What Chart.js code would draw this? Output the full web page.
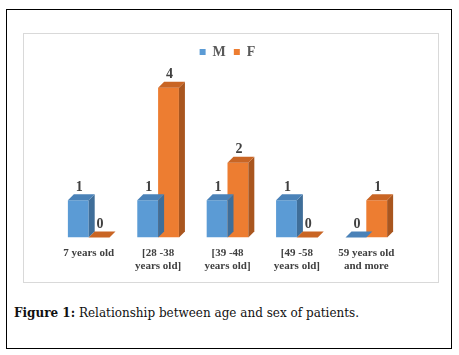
<!DOCTYPE html>
<html>
<head>
<meta charset="utf-8">
<script src="https://cdn.jsdelivr.net/npm/chart.js@4"></script>
<style>
  body { margin: 0; background: #fff; width: 459px; height: 355px; position: relative; overflow: hidden; }
  #frame { position: absolute; left: 6px; top: 9px; width: 444px; height: 338px; border: 1.5px solid #000; }
  #box { position: absolute; left: 23px; top: 33px; width: 414px; height: 248px; border: 1px solid #d9d9d9; }
  #caption { position: absolute; left: 14px; top: 306px; font-family: "DejaVu Serif", serif; font-size: 12px; color: #111; }
  #caption b { font-weight: bold; }
</style>
</head>
<body>
<div id="frame"></div>
<div id="box"><canvas id="myChart1" width="414" height="248"></canvas></div>
<div id="caption"><b>Figure 1:</b> Relationship between age and sex of patients.</div>
<script>
const categories = ["7 years old", ["[28 -38", "years old]"], ["[39 -48", "years old]"], ["[49 -58", "years old]"], ["59 years old", "and more"]];
const male = [1, 1, 1, 1, 0];
const female = [0, 4, 2, 0, 1];

const DEPTH = 6;

// fake 3D: top + side faces, and the value labels
const bar3d = {
  id: "bar3d",
  afterDatasetsDraw(chart) {
    const ctx = chart.ctx;
    chart.data.datasets.forEach(function (ds, i) {
      const meta = chart.getDatasetMeta(i);
      meta.data.forEach(function (bar, j) {
        const p = bar.getProps(["x", "y", "base", "width"], true);
        const l = p.x - p.width / 2, r = p.x + p.width / 2;
        ctx.save();
        ctx.fillStyle = ds.sideColor;
        ctx.beginPath();
        ctx.moveTo(r, p.y);
        ctx.lineTo(r + DEPTH, p.y - DEPTH);
        ctx.lineTo(r + DEPTH, p.base - DEPTH);
        ctx.lineTo(r, p.base);
        ctx.closePath();
        ctx.fill();
        ctx.fillStyle = ds.topColor;
        ctx.beginPath();
        ctx.moveTo(l, p.y);
        ctx.lineTo(l + DEPTH, p.y - DEPTH);
        ctx.lineTo(r + DEPTH, p.y - DEPTH);
        ctx.lineTo(r, p.y);
        ctx.closePath();
        ctx.fill();
        ctx.fillStyle = "#404040";
        ctx.font = "bold 14px 'Liberation Serif'";
        ctx.textAlign = "center";
        ctx.textBaseline = "middle";
        ctx.fillText(ds.data[j], p.x + 1, p.y - 13);
        ctx.restore();
      });
    });
  },
};

new Chart(document.getElementById("myChart1"), {
  type: "bar",
  data: {
    labels: categories,
    datasets: [
      {
        label: "M",
        data: male,
        backgroundColor: "#5B9BD5",
        sideColor: "#3F6E99",
        topColor: "#4A82B8",
      },
      {
        label: "F",
        data: female,
        backgroundColor: "#ED7D31",
        sideColor: "#A9561F",
        topColor: "#C96524",
      },
    ],
  },
  options: {
    responsive: false,
    animation: false,
    categoryPercentage: 0.6,
    barPercentage: 1,
    layout: { padding: { left: 30, right: 37, top: 3, bottom: 8 } },
    scales: {
      x: {
        grid: { display: false },
        border: { display: false },
        ticks: {
          color: "#404040",
          padding: 1,
          maxRotation: 0,
          font: { family: "Liberation Serif", weight: "bold", size: 11 },
        },
      },
      y: {
        display: false,
        min: 0,
        max: 4.5,
      },
    },
    plugins: {
      tooltip: { enabled: false },
      legend: {
        labels: {
          color: "#595959",
          boxWidth: 6,
          boxHeight: 6,
          padding: 8,
          font: { family: "Liberation Serif", weight: "bold", size: 14 },
        },
      },
    },
  },
  plugins: [bar3d],
});
</script>
</body>
</html>
